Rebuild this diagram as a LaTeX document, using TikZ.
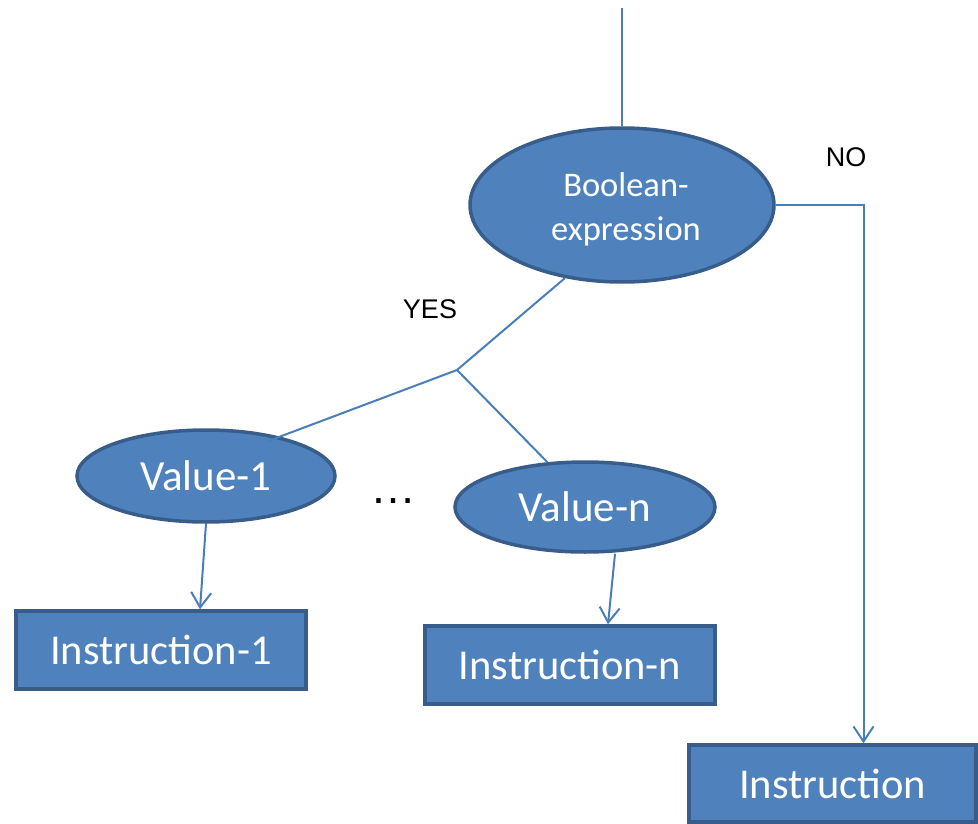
\documentclass[tikz,border=0pt]{standalone}
\usepackage{fontspec}
\setmainfont{Carlito}
\newfontfamily\arialf{Liberation Sans}
\usetikzlibrary{shapes.geometric,arrows.meta}
\definecolor{boxfill}{HTML}{4F81BD}
\definecolor{boxedge}{HTML}{385D8A}
\definecolor{linec}{HTML}{4A7EBB}
\begin{document}
\begin{tikzpicture}[x=1pt,y=-1pt,
  ell/.style={ellipse,draw=boxedge,fill=boxfill,line width=3.5pt,inner sep=0pt,text=white},
  rbox/.style={rectangle,draw=boxedge,fill=boxfill,line width=3.5pt,inner sep=0pt,text=white,font=\fontsize{42.5}{50}\selectfont},
  conn/.style={draw=linec,line width=2pt},
  arr/.style={conn,-{Straight Barb[length=15pt,width=20pt,line width=2pt]}},
  lbl/.style={font=\arialf\fontsize{27}{32}\selectfont,text=black}]
\useasboundingbox (0,0) rectangle (978,824);
% nodes
\node[ell,minimum width=304pt,minimum height=154pt] (bool) at (622,205) {};
\node[align=center,text=white,font=\fontsize{34.5}{44}\selectfont] (booltxt) at (626,209) {Boolean-\\expression};
\node[ell,minimum width=258pt,minimum height=92pt,font=\fontsize{43}{50}\selectfont] (v1) at (206,476) {Value-1};
\node[ell,minimum width=260pt,minimum height=90pt,font=\fontsize{43}{50}\selectfont] (vn) at (585,507) {Value-n};
\node[rbox,minimum width=290pt,minimum height=78pt] (i1) at (161,650) {Instruction-1};
\node[rbox,minimum width=290pt,minimum height=78pt] (in) at (570,665) {Instruction-n};
\node[rbox,minimum width=287pt,minimum height=77pt] (ins) at (832.5,783.5) {Instruction};
\node[lbl] (yes) at (430,309) {YES};
\node[lbl] (no) at (846,157) {NO};
\node[font=\arialf\fontsize{46}{52}\selectfont] (dots) at (393,501) {…};
\coordinate (top) at (622,8);
\coordinate (junc) at (457,370);
% connectors
\draw[conn] (top) -- (bool.north);
\draw[arr] (bool.east) -| ([xshift=31pt]ins.north);
\draw[conn] (bool.232) -- (junc);
\draw[conn] (junc) -- ([yshift=-7pt]v1.34);
\draw[conn] (junc) -- (vn.130);
\draw[arr] (v1.south) -- ([xshift=39pt]i1.north);
\draw[arr] ([xshift=30pt]vn.south) -- ([xshift=38pt]in.north);
\end{tikzpicture}
\end{document}
